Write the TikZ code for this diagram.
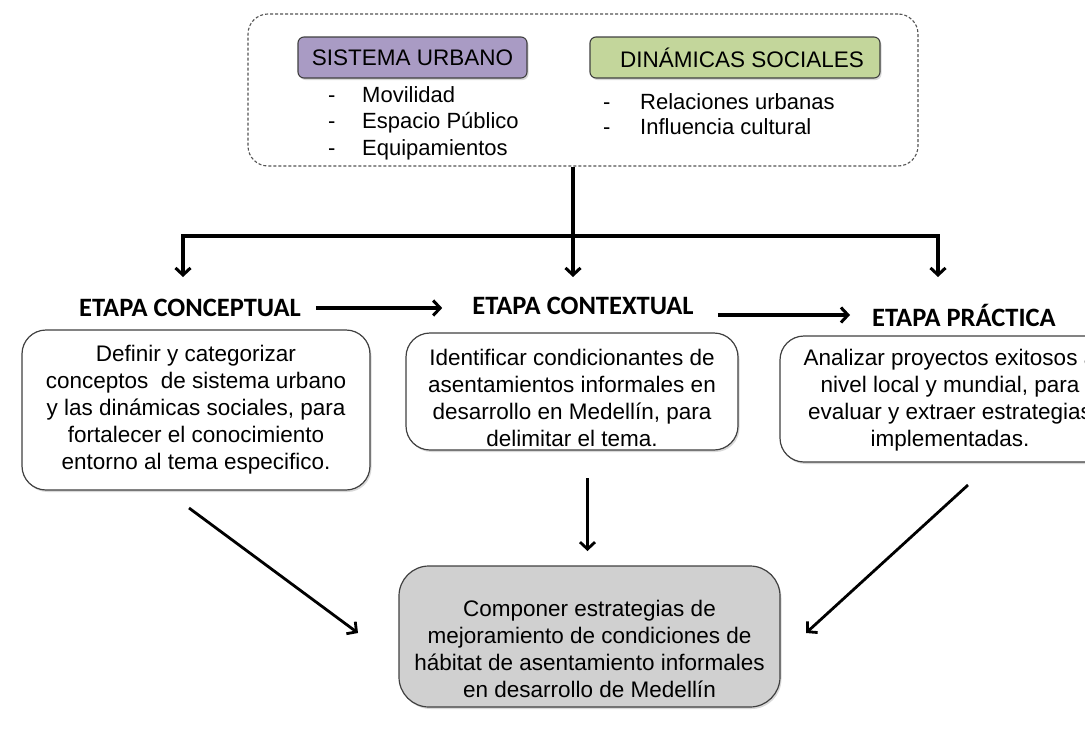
\documentclass[tikz,border=0pt]{standalone}
\usepackage{fontspec}
\setmainfont{Liberation Sans}
\newfontfamily\calibri{Carlito}
\usetikzlibrary{arrows.meta,shadows}
\definecolor{purpbox}{HTML}{A99BC4}
\definecolor{greenbox}{HTML}{C3D69B}
\definecolor{grayfill}{HTML}{D0D0D0}
\definecolor{edge}{HTML}{404040}
\begin{document}
\begin{tikzpicture}[x=1pt,y=-1pt,
  txtbox/.style={draw=edge, line width=1.2pt, rounded corners=24pt, fill=white,
    align=center, inner sep=0pt,
    font=\fontsize{22.5}{27}\selectfont,
    drop shadow={opacity=0.3, shadow xshift=1.5pt, shadow yshift=-2pt}},
  plaintxt/.style={align=center, inner sep=0pt, font=\fontsize{22.5}{27}\selectfont},
  catbox/.style={draw=edge, line width=1.1pt, rounded corners=6pt, inner sep=0pt,
    font=\fontsize{22.5}{25}\selectfont,
    drop shadow={opacity=0.3, shadow xshift=1.5pt, shadow yshift=-2pt}},
  listtxt/.style={inner sep=0pt, anchor=base west, font=\fontsize{22}{26.5}\selectfont},
  stage/.style={inner sep=0pt, font=\calibri\bfseries\fontsize{26.5}{30}\selectfont},
  arr/.style={line width=3.3pt, -{Straight Barb[length=7pt,width=15pt,line width=3pt]}},
  arrthin/.style={line width=2.8pt, -{Straight Barb[length=7pt,width=15pt,line width=2.8pt]}},
  trunk/.style={line width=3.3pt}
]
\useasboundingbox (0,0) rectangle (1085,731);
\clip (0,0) rectangle (1085,731);

% top dashed container
\node[draw=edge!90, line width=1.1pt, dash pattern=on 3pt off 2pt, rounded corners=20pt,
      minimum width=670pt, minimum height=152pt, inner sep=0pt] (top) at (583,90) {};
\node[catbox, fill=purpbox, minimum width=229pt, minimum height=41pt] (su) at (412.5,57.5) {SISTEMA URBANO};
\node[catbox, fill=greenbox, minimum width=290pt, minimum height=41pt] (ds) at (735,57.5) {\hspace{14pt}DINÁMICAS SOCIALES};
\node[listtxt] (sul) at (328,102) {\begin{tabular}[t]{@{}p{34pt}@{}l@{}}
-&Movilidad\\ -&Espacio Público\\ -&Equipamientos\end{tabular}};
\node[listtxt] (dsl) at (603,109.5) {\fontsize{22}{25}\selectfont\begin{tabular}[t]{@{}p{37pt}@{}l@{}}
-&Relaciones urbanas\\ -&Influencia cultural\end{tabular}};

% stage labels
\node[stage] (c1) at (190,308) {ETAPA CONCEPTUAL};
\node[stage] (c2) at (583,306) {ETAPA CONTEXTUAL};
\node[stage] (c3) at (964,315) {ETAPA PRÁCTICA};

% stage boxes
\node[txtbox, minimum width=348pt, minimum height=160pt] (b1) at (196,410)
  {Definir y categorizar\\conceptos \ de sistema urbano\\y las dinámicas sociales, para\\fortalecer el conocimiento\\entorno al tema especifico.};
\node[txtbox, minimum width=332pt, minimum height=117pt] (b2) at (572,391.5) {};
\node[plaintxt] (b2t) at (572,398)
  {Identificar condicionantes de\\asentamientos informales en\\desarrollo en Medellín, para\\delimitar el tema.};
\node[txtbox, minimum width=340pt, minimum height=126pt] (b3) at (950,399) {};
\node[plaintxt] (b3t) at (950,400.5)
  {Analizar proyectos exitosos a\\nivel local y mundial, para\\evaluar y extraer estrategias\\implementadas.};

% final box
\node[txtbox, fill=grayfill, rounded corners=30pt, minimum width=381pt, minimum height=141pt] (fin) at (589.5,636.5) {};
\node[plaintxt] (fint) at (589.5,649)
  {Componer estrategias de\\mejoramiento de condiciones de\\hábitat de asentamiento informales\\en desarrollo de Medellín};

% branching connector
\coordinate (hub) at (573,236);
\coordinate (jL) at (183,236);
\coordinate (jR) at (938,236);
\coordinate (tL) at (183,277);
\coordinate (tM) at (573,277);
\coordinate (tR) at (938,277);
\draw[trunk] (top.south -| hub) -- (hub);
\draw[trunk, line cap=rect] (jL) -- (jR);
\draw[arr] ([yshift=-1.5pt]jL) -- (tL);
\draw[arr] (hub) -- (tM);
\draw[arr] ([yshift=-1.5pt]jR) -- (tR);

% stage-to-stage arrows
\draw[arr] ([xshift=15pt]c1.east) -- ([xshift=-30pt]c2.west |- c1.east);
\draw[arr] ([xshift=24pt]c2.east |- c3.west) -- ([xshift=-22pt]c3.west);

% to final box
\coordinate (d1s) at (189,508);
\coordinate (d1e) at (358,633);
\coordinate (d2s) at (587.5,478);
\coordinate (d2e) at (587.5,551);
\coordinate (d3s) at (968,485);
\coordinate (d3e) at (806,633);
\draw[arrthin] (d1s) -- (d1e);
\draw[arrthin] (d2s) -- (d2e);
\draw[arrthin] (d3s) -- (d3e);
\end{tikzpicture}
\end{document}
